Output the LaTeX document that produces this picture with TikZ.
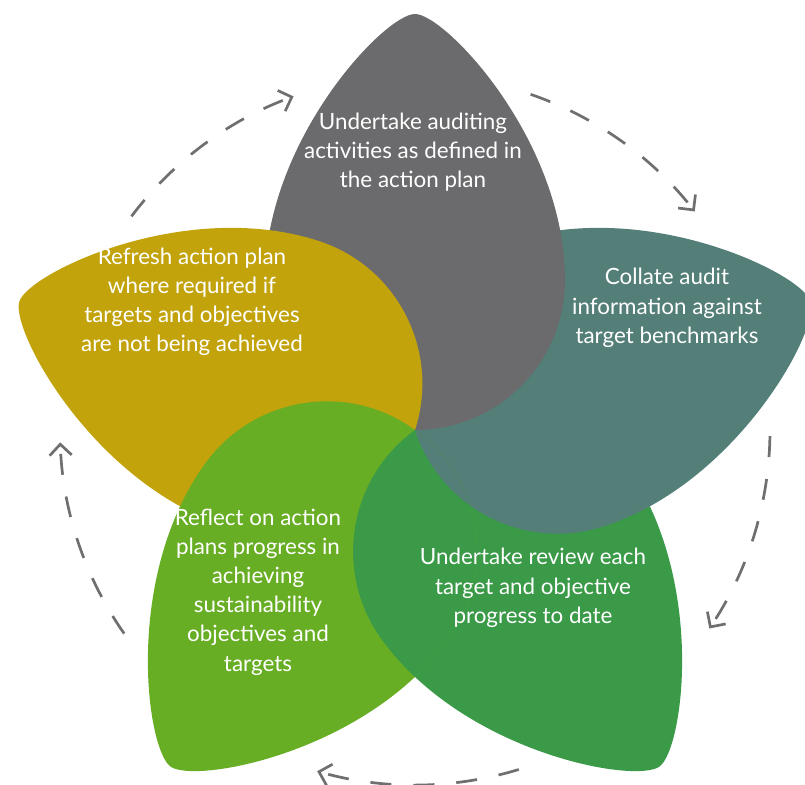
\documentclass[tikz,border=0pt]{standalone}
\usepackage{fontspec}
\setmainfont{Lato}
\usetikzlibrary{arrows.meta}
\definecolor{petalgray}{HTML}{6B6B6D}
\definecolor{petalteal}{HTML}{537F78}
\definecolor{petalgreen}{HTML}{3A9A48}
\definecolor{petallime}{HTML}{67AE24}
\definecolor{petalolive}{HTML}{C2A30B}
\definecolor{cyclegray}{HTML}{6F6F71}
\tikzset{
  petal/.style={insert path={(0,416) .. controls (30,416) and (150,290) .. (150,150)
      arc[start angle=0, end angle=-180, radius=150]
      .. controls (-150,290) and (-30,416) .. (0,416) -- cycle}},
  petaltext/.style={text=white, align=center,
                    font=\fontsize{11.2}{14.6}\selectfont},
  cyclearrow/.style={draw=cyclegray, line width=1.35pt,
                     dash pattern=on 10.5pt off 11pt,
                     -{Straight Barb[length=5.5pt, width=11pt, line width=1.35pt]}},
}

\begin{document}
\begin{tikzpicture}[x=0.5pt, y=0.5pt]
    \clip (-415,-355) rectangle (390,430);

    % Petals, bottom to top
    \fill[petalgreen, rotate=-144, petal];
    \fill[petalteal,  rotate=-72,  petal];
    \fill[petalgray,  petal];
    \fill[petalolive, rotate=72,   petal];
    \fill[petallime,  rotate=144,  petal];

    % green lies over lime, teal over green
    \begin{scope}
      \clip[rotate=144, petal];
      \fill[petalgreen, rotate=-144, petal];
      \clip[rotate=-144, petal];
      \fill[petalteal, rotate=-72, petal];
    \end{scope}

    % Step texts
    \node[petaltext] (audit)   at (-2,278)    {Undertake auditing\\activities as defined in\\the action plan};
    \node[petaltext] (collate) at (252,122)   {Collate audit\\information against\\target benchmarks};
    \node[petaltext] (review)  at (118,-158)  {Undertake review each\\target and objective\\progress to date};
    \node[petaltext] (reflect) at (-157,-162) {Reflect on action\\plans progress in\\achieving\\sustainability\\objectives and\\targets};
    \node[petaltext] (refresh) at (-223,128)  {Refresh action plan\\where required if\\targets and objectives\\are not being achieved};

    % Dashed cycle arrows
    \draw[cyclearrow] (143:355) arc[start angle=143, end angle=110, radius=355];
    \draw[cyclearrow] (71:355) arc[start angle=71, end angle=38, radius=355];
    \draw[cyclearrow] (-1:355) arc[start angle=-1, end angle=-34, radius=355];
    \draw[cyclearrow] (-73:355) arc[start angle=-73, end angle=-106, radius=355];
    \draw[cyclearrow] (-145:355) arc[start angle=-145, end angle=-178, radius=355];

\end{tikzpicture}
\end{document}
